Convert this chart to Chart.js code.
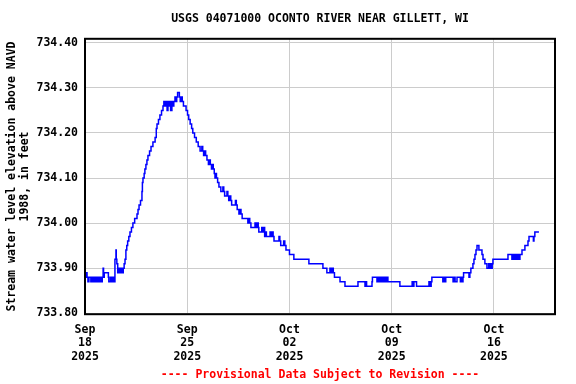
<!DOCTYPE html>
<html>
<head>
<meta charset="utf-8">
<script src="https://cdn.jsdelivr.net/npm/chart.js@4.4.1/dist/chart.umd.min.js"></script>
<style>
html, body { margin: 0; padding: 0; background: #fff; }
#wrap { width: 576px; height: 384px; }
</style>
</head>
<body>
<div id="wrap"><canvas id="chart1" width="576" height="384"></canvas></div>
<script>
// chart texts
const siteTitle = "USGS 04071000 OCONTO RIVER NEAR GILLETT, WI";
const footNote = "---- Provisional Data Subject to Revision ----";
const yTitle = ["Stream water level elevation above NAVD", "1988, in feet"];

// x ticks (days after Sep 18 2025)
const tickDays = [0, 7, 14, 21, 28];
const tickMonth = ["Sep", "Sep", "Oct", "Oct", "Oct"];
const tickDay = ["18", "25", "02", "09", "16"];
const tickYear = ["2025", "2025", "2025", "2025", "2025"];

// y ticks
const levelTicks = [733.80, 733.90, 734.00, 734.10, 734.20, 734.30, 734.40];

// series: days after Sep 18 2025 00:00, water level in feet
const days = [
  0.00, 0.08, 0.14, 0.20, 0.27, 0.33, 0.40, 0.45, 0.52, 0.58, 0.64, 0.70, 0.76, 0.82, 0.88, 0.94,
  1.00, 1.05, 1.12, 1.18, 1.24, 1.27, 1.32, 1.60, 1.63, 1.74, 1.80, 1.84, 1.90, 1.94, 2.00, 2.05,
  2.12, 2.14, 2.18, 2.24, 2.30, 2.36, 2.40, 2.46, 2.50, 2.56, 2.62, 2.68, 2.74, 2.80, 2.86, 2.92,
  3.00, 3.08, 3.18, 3.28, 3.40, 3.56, 3.63, 3.70, 3.80, 3.90, 3.93, 3.97, 4.05, 4.10, 4.17, 4.24,
  4.31, 4.42, 4.52, 4.65, 4.80, 4.88, 4.93, 5.03, 5.13, 5.24, 5.34, 5.40, 5.47, 5.55, 5.62, 5.68,
  5.72, 5.80, 5.86, 5.95, 6.00, 6.08, 6.16, 6.22, 6.28, 6.34, 6.46, 6.52, 6.60, 6.66, 6.74, 6.92,
  7.02, 7.10, 7.20, 7.30, 7.38, 7.50, 7.62, 7.75, 7.88, 8.00, 8.06, 8.12, 8.20, 8.26, 8.35, 8.45,
  8.52, 8.58, 8.66, 8.72, 8.78, 8.85, 8.90, 8.96, 9.00, 9.08, 9.17, 9.30, 9.44, 9.50, 9.56, 9.72,
  9.78, 9.84, 9.92, 9.98, 10.04, 10.30, 10.36, 10.42, 10.54, 10.62, 10.68, 10.76, 11.15, 11.22, 11.28, 11.36,
  11.64, 11.70, 11.76, 11.86, 11.90, 12.10, 12.16, 12.22, 12.30, 12.38, 12.42, 12.67, 12.74, 12.82, 12.88, 12.94,
  13.28, 13.34, 13.40, 13.60, 13.68, 13.76, 14.00, 14.30, 15.33, 16.29, 16.56, 16.77, 16.84, 16.92, 17.00, 17.08,
  17.46, 17.80, 18.69, 19.17, 19.22, 19.28, 19.65, 19.68, 19.99, 20.05, 20.12, 20.20, 20.28, 20.36, 20.44, 20.52,
  20.60, 20.66, 20.74, 21.56, 22.40, 22.46, 22.52, 22.70, 23.55, 23.60, 23.70, 23.75, 24.50, 24.58, 24.64, 24.70,
  25.20, 25.28, 25.34, 25.47, 25.70, 25.76, 25.82, 25.88, 25.92, 26.29, 26.35, 26.42, 26.56, 26.63, 26.70, 26.77,
  26.84, 26.97, 27.18, 27.25, 27.38, 27.52, 27.64, 27.70, 27.76, 27.82, 27.88, 27.93, 28.96, 29.23, 29.30, 29.38,
  29.46, 29.54, 29.62, 29.70, 29.78, 29.92, 30.12, 30.33, 30.40, 30.70, 30.74, 30.80, 31.00, 31.08
];
const levels = [
  733.89, 733.88, 733.89, 733.88, 733.87, 733.88, 733.88, 733.87, 733.88, 733.87, 733.88, 733.87, 733.88, 733.87, 733.88, 733.87,
  733.88, 733.87, 733.88, 733.87, 733.88, 733.90, 733.88, 733.89, 733.88, 733.87, 733.88, 733.87, 733.88, 733.87, 733.88, 733.87,
  733.92, 733.94, 733.92, 733.91, 733.89, 733.90, 733.89, 733.90, 733.89, 733.90, 733.89, 733.90, 733.91, 733.92, 733.94, 733.95,
  733.96, 733.97, 733.98, 733.99, 734.00, 734.01, 734.02, 734.03, 734.04, 734.05, 734.07, 734.09, 734.10, 734.11, 734.12, 734.13,
  734.14, 734.15, 734.16, 734.17, 734.18, 734.19, 734.21, 734.22, 734.23, 734.24, 734.25, 734.26, 734.27, 734.26, 734.27, 734.25,
  734.27, 734.26, 734.27, 734.25, 734.27, 734.26, 734.27, 734.28, 734.27, 734.28, 734.29, 734.28, 734.27, 734.28, 734.27, 734.26,
  734.25, 734.24, 734.23, 734.22, 734.21, 734.20, 734.19, 734.18, 734.17, 734.16, 734.17, 734.16, 734.15, 734.16, 734.15, 734.14,
  734.13, 734.14, 734.13, 734.12, 734.13, 734.12, 734.11, 734.10, 734.11, 734.10, 734.09, 734.08, 734.07, 734.08, 734.07, 734.06,
  734.07, 734.06, 734.05, 734.06, 734.05, 734.04, 734.05, 734.04, 734.03, 734.02, 734.03, 734.02, 734.01, 734.00, 734.01, 734.00,
  733.99, 734.00, 733.99, 734.00, 733.99, 733.98, 733.99, 733.98, 733.99, 733.97, 733.98, 733.97, 733.98, 733.97, 733.98, 733.97,
  733.96, 733.97, 733.96, 733.95, 733.96, 733.95, 733.94, 733.93, 733.92, 733.91, 733.90, 733.89, 733.90, 733.89, 733.90, 733.89,
  733.88, 733.87, 733.86, 733.87, 733.86, 733.87, 733.86, 733.87, 733.88, 733.87, 733.88, 733.87, 733.88, 733.87, 733.88, 733.87,
  733.88, 733.87, 733.88, 733.87, 733.86, 733.87, 733.86, 733.87, 733.86, 733.87, 733.86, 733.87, 733.88, 733.87, 733.88, 733.87,
  733.88, 733.87, 733.88, 733.87, 733.88, 733.87, 733.88, 733.87, 733.88, 733.89, 733.88, 733.89, 733.90, 733.91, 733.92, 733.93,
  733.94, 733.95, 733.94, 733.93, 733.92, 733.91, 733.90, 733.91, 733.90, 733.91, 733.90, 733.91, 733.92, 733.93, 733.92, 733.93,
  733.92, 733.93, 733.92, 733.93, 733.92, 733.93, 733.94, 733.95, 733.96, 733.97, 733.96, 733.97, 733.98, 733.98
];

const monoBold = { family: "'DejaVu Sans Mono', monospace", size: 11.5, weight: "bold" };

// black frame round the plot area
const framePlugin = {
  id: "frame",
  afterDraw(chart) {
    const a = chart.chartArea;
    const ctx = chart.ctx;
    ctx.save();
    ctx.strokeStyle = "#000";
    ctx.lineWidth = 2;
    ctx.strokeRect(a.left, a.top, a.right - a.left, a.bottom - a.top);
    ctx.restore();
  }
};

const ctx_chart1 = document.getElementById("chart1").getContext("2d");
const chart1 = new Chart(ctx_chart1, {
  type: "line",
  data: {
    datasets: [{
      data: days.map((d, i) => ({ x: d, y: levels[i] })),
      borderColor: "#0000ff",
      borderWidth: 1.5,
      pointRadius: 0,
      stepped: "after",
      fill: false
    }]
  },
  options: {
    responsive: false,
    animation: false,
    layout: { padding: { left: 0, right: 21, top: 0, bottom: 0 } },
    plugins: {
      legend: { display: false },
      tooltip: { enabled: false },
      title: {
        display: true,
        fullSize: false,
        text: siteTitle,
        color: "#000",
        font: Object.assign({}, monoBold, { lineHeight: 1.2 }),
        padding: { top: 12, bottom: 13 }
      },
      subtitle: {
        display: true,
        fullSize: false,
        position: "bottom",
        text: footNote,
        color: "#ff0000",
        font: Object.assign({}, monoBold, { lineHeight: 1.2 }),
        padding: { top: 4, bottom: 2 }
      }
    },
    scales: {
      x: {
        type: "linear",
        min: 0,
        max: 32.18,
        afterFit(scale) { scale.height = 50; },
        afterBuildTicks(scale) { scale.ticks = tickDays.map(v => ({ value: v })); },
        grid: { color: "#cccccc", lineWidth: 1, drawTicks: false },
        border: { display: false },
        ticks: {
          color: "#000",
          font: Object.assign({}, monoBold, { lineHeight: 1.17 }),
          padding: 9,
          maxRotation: 0,
          autoSkip: false,
          callback(value) {
            const i = tickDays.indexOf(value);
            return i < 0 ? "" : [tickMonth[i], tickDay[i], tickYear[i]];
          }
        }
      },
      y: {
        min: 733.7978,
        max: 734.4089,
        afterFit(scale) { scale.width = 85; },
        afterBuildTicks(scale) { scale.ticks = levelTicks.map(v => ({ value: v })); },
        grid: { color: "#cccccc", lineWidth: 1, drawTicks: false },
        border: { display: false },
        title: {
          display: true,
          text: yTitle,
          color: "#000",
          font: Object.assign({}, monoBold, { lineHeight: 1.13 }),
          padding: { top: 5.5, bottom: 0 }
        },
        ticks: {
          color: "#000",
          font: monoBold,
          padding: 7,
          autoSkip: false,
          callback(value) { return value.toFixed(2); }
        }
      }
    }
  },
  plugins: [framePlugin]
});
</script>
</body>
</html>
